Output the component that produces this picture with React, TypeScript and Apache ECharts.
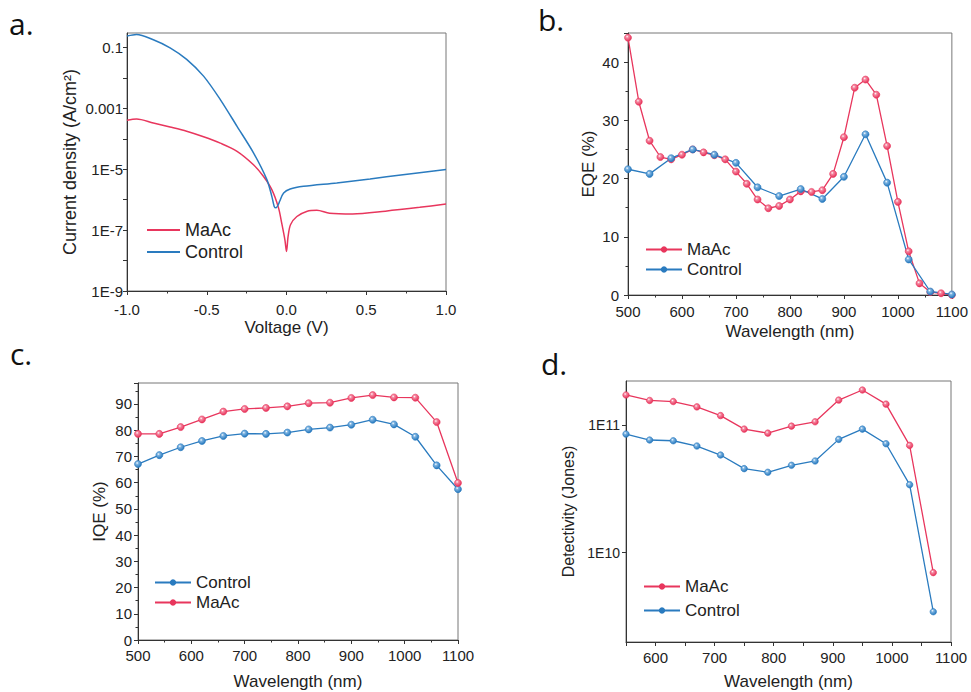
import React, { useEffect, useRef } from 'react';
import * as echarts from 'echarts';

const RED = '#e8365d';
const RED_LIGHT = '#f58aa2';
const BLUE = '#2a7bbf';
const BLUE_LIGHT = '#7fb5e2';
const FONT = '"Liberation Sans", Arial, sans-serif';

// ---------- Panel a: J-V (log) ----------
const aControlV = [-1.0, -0.94, -0.835, -0.73, -0.626, -0.52, -0.415, -0.31, -0.207, -0.123, -0.092, -0.077, -0.066, -0.05, -0.043, -0.018, 0.023, 0.107, 0.315, 0.524, 0.73, 1.0];
const aControlJ = [0.24, 0.27, 0.18, 0.098, 0.041, 0.0115, 1.95e-3, 2.57e-4, 3.47e-5, 4.57e-6, 1.29e-6, 6.0e-7, 5.4e-7, 7.1e-7, 8.9e-7, 1.66e-6, 2.24e-6, 2.75e-6, 3.55e-6, 4.8e-6, 6.6e-6, 9.8e-6];
const aMaAcV = [-1.0, -0.94, -0.835, -0.73, -0.626, -0.52, -0.415, -0.31, -0.207, -0.145, -0.092, -0.05, -0.03, -0.01, 0.0, 0.01, 0.025, 0.065, 0.13, 0.19, 0.27, 0.415, 0.62, 0.835, 1.0];
const aMaAcJ = [4.07e-4, 4.47e-4, 3.31e-4, 2.45e-4, 1.78e-4, 1.17e-4, 7.2e-5, 3.9e-5, 1.41e-5, 5.9e-6, 2.14e-6, 5.4e-7, 1.7e-7, 4.8e-8, 2.0e-8, 6.2e-8, 1.51e-7, 2.8e-7, 4.2e-7, 4.5e-7, 3.6e-7, 3.4e-7, 4.2e-7, 5.6e-7, 7.2e-7];
const aYTickExps = [-9, -7, -5, -3, -1];
const aYTickLabels = ['1E-9', '1E-7', '1E-5', '0.001', '0.1'];

// ---------- Panel b: EQE ----------
const bMaAcWl = [500, 520, 540, 560, 580, 600, 620, 640, 660, 680, 700, 720, 740, 760, 780, 800, 820, 840, 860, 880, 900, 920, 940, 960, 980, 1000, 1020, 1040, 1060, 1080, 1100];
const bMaAcEqe = [44.2, 33.2, 26.5, 23.7, 23.3, 24.1, 25.0, 24.5, 24.0, 23.3, 21.2, 19.1, 16.4, 14.9, 15.3, 16.4, 17.8, 17.7, 18.0, 20.8, 27.1, 35.6, 37.0, 34.4, 25.6, 16.0, 7.5, 2.0, 0.5, 0.3, 0.0];
const bControlWl = [500, 540, 580, 620, 660, 700, 740, 780, 820, 860, 900, 940, 980, 1020, 1060, 1100];
const bControlEqe = [21.6, 20.8, 23.5, 25.0, 24.1, 22.7, 18.5, 17.0, 18.2, 16.5, 20.3, 27.6, 19.3, 6.1, 0.6, 0.1];

// ---------- Panel c: IQE ----------
const cWl = [500, 540, 580, 620, 660, 700, 740, 780, 820, 860, 900, 940, 980, 1020, 1060, 1100];
const cControlIqe = [67.1, 70.5, 73.5, 75.9, 77.8, 78.7, 78.6, 79.1, 80.3, 81.0, 82.1, 84.0, 82.2, 77.5, 66.6, 57.5];
const cMaAcIqe = [78.6, 78.6, 81.2, 84.1, 87.1, 88.1, 88.5, 89.1, 90.3, 90.5, 92.3, 93.4, 92.5, 92.4, 83.1, 59.9];

// ---------- Panel d: Detectivity (log) ----------
const dWl = [550, 590, 630, 670, 710, 750, 790, 830, 870, 910, 950, 990, 1030, 1070];
const dMaAcD = [1.71e11, 1.55e11, 1.52e11, 1.38e11, 1.18e11, 9.25e10, 8.6e10, 9.76e10, 1.055e11, 1.56e11, 1.87e11, 1.45e11, 6.9e10, 6.98e9];
const dControlD = [8.46e10, 7.6e10, 7.5e10, 6.82e10, 5.8e10, 4.54e10, 4.25e10, 4.82e10, 5.21e10, 7.69e10, 9.25e10, 7.11e10, 3.4e10, 3.45e9];
const dYTickExps = [10, 11];
const dYTickLabels = ['1E10', '1E11'];

const zip = (xs: number[], ys: number[]) => xs.map((x, i) => [x, ys[i]]);

const sphere = (dark: string, light: string) =>
  new echarts.graphic.RadialGradient(0.38, 0.35, 0.62, [
    { offset: 0, color: '#ffffff' },
    { offset: 0.3, color: light },
    { offset: 1, color: dark },
  ]);

const logLabel = (exps: number[], labels: string[]) => (v: number) => {
  const e = Math.log10(v);
  const r = Math.round(e);
  if (Math.abs(e - r) > 1e-6) return '';
  const i = exps.indexOf(r);
  return i >= 0 ? labels[i] : '';
};

const axisLineStyle = { onZero: false, lineStyle: { color: '#333', width: 1 } };
const tickStyle = { show: true, length: 4, lineStyle: { color: '#333', width: 1 } };
const minorTickStyle = { show: true, splitNumber: 2, length: 2.5, lineStyle: { color: '#333', width: 1 } };
const labelBase = { color: '#222', fontSize: 15, fontFamily: FONT };
const nameBase = { color: '#222', fontSize: 17, fontFamily: FONT };
const plain = (v: number) => String(v);

function markerSeries(name: string, xi: number, data: number[][], dark: string, light: string, size = 7) {
  return {
    name,
    type: 'line',
    xAxisIndex: xi,
    yAxisIndex: xi,
    data,
    symbol: 'circle',
    symbolSize: size,
    showSymbol: true,
    lineStyle: { color: dark, width: 1.3 },
    itemStyle: { color: sphere(dark, light), borderColor: dark, borderWidth: 0.6 },
    emphasis: { disabled: true },
  };
}

function legendAt(names: any[], left: number, top: number, gap: number, size: number, width = 36, height = 8) {
  return {
    data: names,
    orient: 'vertical',
    left,
    top,
    itemWidth: width,
    itemHeight: height,
    itemGap: gap,
    selectedMode: false,
    textStyle: { color: '#222', fontSize: size, fontFamily: FONT },
    padding: 0,
  };
}

export default function App() {
  const ref = useRef<HTMLDivElement>(null);
  useEffect(() => {
    if (!ref.current) return;
    const chart = echarts.init(ref.current, undefined, { renderer: 'svg' });
    const grids = [
      { left: 127, top: 33, width: 319, height: 258 },
      { left: 628, top: 33, width: 324, height: 262 },
      { left: 138, top: 383, width: 320, height: 257 },
      { left: 626, top: 381, width: 325, height: 261 },
    ].map((g) => ({ ...g, show: true, borderColor: '#777', borderWidth: 1, backgroundColor: 'transparent', containLabel: false }));

    const option = {
      animation: false,
      backgroundColor: '#ffffff',
      grid: grids,
      xAxis: [
        {
          gridIndex: 0, type: 'value', min: -1, max: 1, interval: 0.5,
          name: 'Voltage (V)', nameLocation: 'middle', nameGap: 28, nameTextStyle: nameBase,
          axisLine: axisLineStyle, axisTick: tickStyle, minorTick: minorTickStyle, splitLine: { show: false },
          axisLabel: { ...labelBase, margin: 11, formatter: (v: number) => v.toFixed(1) },
        },
        {
          gridIndex: 1, type: 'value', min: 500, max: 1100, interval: 100,
          name: 'Wavelength (nm)', nameLocation: 'middle', nameGap: 28, nameTextStyle: nameBase,
          axisLine: axisLineStyle, axisTick: tickStyle, minorTick: minorTickStyle, splitLine: { show: false },
          axisLabel: { ...labelBase, margin: 9, formatter: plain },
        },
        {
          gridIndex: 2, type: 'value', min: 500, max: 1100, interval: 100,
          name: 'Wavelength (nm)', nameLocation: 'middle', nameGap: 33, nameTextStyle: nameBase,
          axisLine: axisLineStyle, axisTick: tickStyle, minorTick: minorTickStyle, splitLine: { show: false },
          axisLabel: { ...labelBase, margin: 8, formatter: plain },
        },
        {
          gridIndex: 3, type: 'value', min: 550, max: 1100, interval: 50,
          name: 'Wavelength (nm)', nameLocation: 'middle', nameGap: 31, nameTextStyle: nameBase,
          axisLine: axisLineStyle, axisTick: tickStyle, splitLine: { show: false },
          axisLabel: { ...labelBase, margin: 8, formatter: (v: number) => (v % 100 === 0 ? String(v) : '') },
        },
      ],
      yAxis: [
        {
          gridIndex: 0, type: 'log', logBase: 10, min: 1e-9, max: 0.3, interval: 1,
          name: 'Current density (A/cm²)', nameLocation: 'middle', nameGap: 48, nameTextStyle: { ...nameBase, fontSize: 18 },
          axisLine: axisLineStyle, axisTick: tickStyle, splitLine: { show: false },
          axisLabel: { ...labelBase, margin: 4, showMaxLabel: false, formatter: logLabel(aYTickExps, aYTickLabels) },
        },
        {
          gridIndex: 1, type: 'value', min: 0, max: 45, interval: 10,
          name: 'EQE (%)', nameLocation: 'middle', nameGap: 31, nameTextStyle: nameBase,
          axisLine: axisLineStyle, axisTick: tickStyle, minorTick: minorTickStyle, splitLine: { show: false },
          axisLabel: { ...labelBase, margin: 9, showMaxLabel: false },
        },
        {
          gridIndex: 2, type: 'value', min: 0, max: 98, interval: 10,
          name: 'IQE (%)', nameLocation: 'middle', nameGap: 30, nameTextStyle: nameBase,
          axisLine: axisLineStyle, axisTick: tickStyle, minorTick: minorTickStyle, splitLine: { show: false },
          axisLabel: { ...labelBase, margin: 6, showMaxLabel: false },
        },
        {
          gridIndex: 3, type: 'log', logBase: 10, min: 2e9, max: 2.2e11,
          name: 'Detectivity (Jones)', nameLocation: 'middle', nameGap: 50, nameTextStyle: { ...nameBase, fontSize: 16 },
          axisLine: axisLineStyle, axisTick: tickStyle, splitLine: { show: false },
          axisLabel: { ...labelBase, fontSize: 14, margin: 6, showMaxLabel: false, showMinLabel: false, formatter: logLabel(dYTickExps, dYTickLabels) },
        },
      ],
      legend: [
        legendAt([{ name: 'MaAc', icon: 'rect' }, { name: 'Control', icon: 'rect' }], 147, 221, 4, 18, 33, 2),
        legendAt(['MaAc', 'Control'], 645, 241, 3, 17),
        legendAt(['Control', 'MaAc'], 154, 574, 3, 17),
        legendAt(['MaAc', 'Control'], 643, 578, 7, 17),
      ],
      series: [
        {
          name: 'MaAc', type: 'line', xAxisIndex: 0, yAxisIndex: 0, data: zip(aMaAcV, aMaAcJ),
          symbol: 'none', smooth: 0.3, lineStyle: { color: RED, width: 1.5 }, itemStyle: { color: RED },
          emphasis: { disabled: true },
        },
        {
          name: 'Control', type: 'line', xAxisIndex: 0, yAxisIndex: 0, data: zip(aControlV, aControlJ),
          symbol: 'none', smooth: 0.3, lineStyle: { color: BLUE, width: 1.5 }, itemStyle: { color: BLUE },
          emphasis: { disabled: true },
        },
        markerSeries('MaAc', 1, zip(bMaAcWl, bMaAcEqe), RED, RED_LIGHT),
        markerSeries('Control', 1, zip(bControlWl, bControlEqe), BLUE, BLUE_LIGHT),
        markerSeries('Control', 2, zip(cWl, cControlIqe), BLUE, BLUE_LIGHT),
        markerSeries('MaAc', 2, zip(cWl, cMaAcIqe), RED, RED_LIGHT),
        markerSeries('MaAc', 3, zip(dWl, dMaAcD), RED, RED_LIGHT, 6.5),
        markerSeries('Control', 3, zip(dWl, dControlD), BLUE, BLUE_LIGHT, 6.5),
      ],
      graphic: [
        { type: 'text', left: 9, top: 8, style: { text: 'a.', font: '30px "Open Sans", sans-serif', fill: '#111' } },
        { type: 'text', left: 538, top: 4, style: { text: 'b.', font: '30px "Open Sans", sans-serif', fill: '#111' } },
        { type: 'text', left: 10, top: 338, style: { text: 'c.', font: '30px "Open Sans", sans-serif', fill: '#111' } },
        { type: 'text', left: 541, top: 348, style: { text: 'd.', font: '30px "Open Sans", sans-serif', fill: '#111' } },
      ],
    };
    chart.setOption(option as any);
    return () => chart.dispose();
  }, []);
  return <div ref={ref} style={{ position: 'absolute', left: 0, top: 0, width: 971, height: 692, background: '#fff' }} />;
}
